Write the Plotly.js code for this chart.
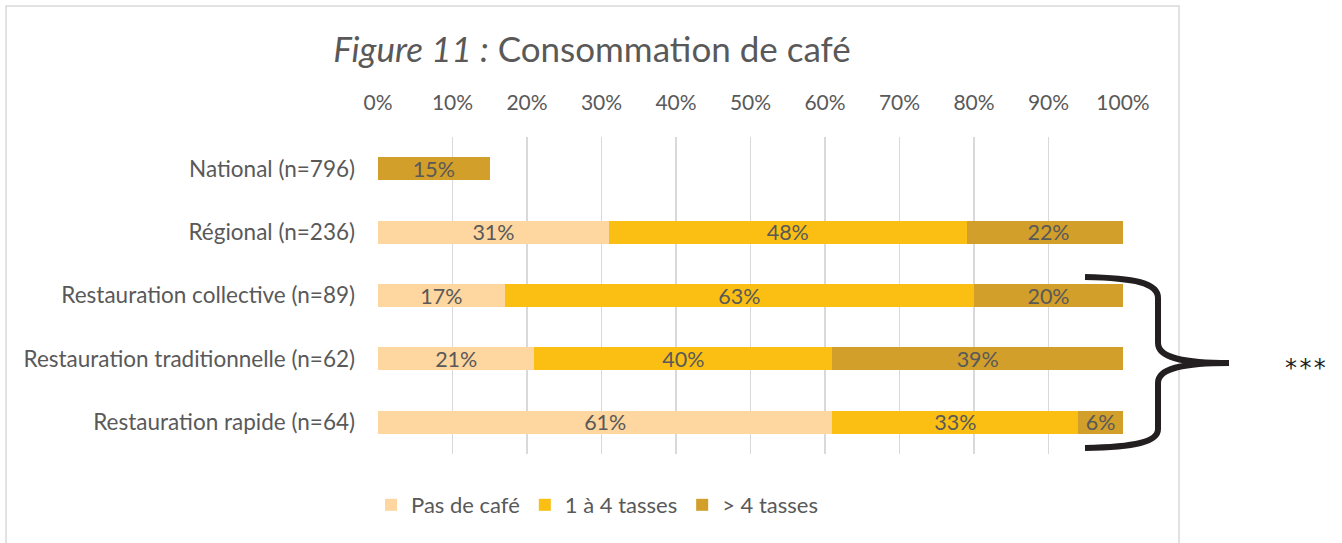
<!DOCTYPE html>
<html>
<head>
<meta charset="utf-8">
<script src="https://cdn.plot.ly/plotly-3.0.1.min.js"></script>
<style>html,body{margin:0;padding:0;background:#fff;}#chart{width:1342px;height:543px;}</style>
</head>
<body>
<div id="chart"></div>
<script>
const categories = ["National (n=796)", "Régional (n=236)", "Restauration collective (n=89)", "Restauration traditionnelle (n=62)", "Restauration rapide (n=64)"];
const seriesNames = ["Pas de café", "1 à 4 tasses", "> 4 tasses"];
const pasDeCafe = [null, 31, 17, 21, 61];
const unAQuatre = [null, 48, 63, 40, 33];
const plusDeQuatre = [15, 22, 20, 39, 6];
const xTicks = [0, 10, 20, 30, 40, 50, 60, 70, 80, 90, 100];
const colors = ["#FED69F", "#FBBF14", "#D29F2A"];

const W = 1342, H = 543;
const M = {l: 378, r: 219, t: 137, b: 89};
const PW = W - M.l - M.r, PH = H - M.t - M.b;
const px = x => ((x - M.l) / PW).toFixed(4);
const py = y => ((H - M.b - y) / PH).toFixed(4);

const FONT = "Lato, 'Open Sans', sans-serif";
const GREY = "#595959";

const vals = [pasDeCafe, unAQuatre, plusDeQuatre];
const traces = vals.map((v, i) => ({
  type: "bar",
  orientation: "h",
  name: seriesNames[i],
  y: categories,
  x: v,
  marker: {color: colors[i], line: {width: 0}},
  text: v.map(d => d == null ? "" : d + "%"),
  textposition: "inside",
  insidetextanchor: "middle",
  constraintext: "none",
  textfont: {family: FONT, size: 21.5, color: GREY},
  hoverinfo: "skip"
}));

// brace path (pixel coordinates converted to paper)
const P = (x, y) => px(x) + "," + py(y);
const brace = "M" + P(1085, 277) +
  " C" + P(1135, 278) + " " + P(1158, 283) + " " + P(1158, 298) +
  " L" + P(1158, 343) +
  " C" + P(1158, 357) + " " + P(1180, 363) + " " + P(1229, 363) +
  " C" + P(1180, 363) + " " + P(1158, 369) + " " + P(1158, 383) +
  " L" + P(1158, 429) +
  " C" + P(1158, 442) + " " + P(1135, 447) + " " + P(1085, 448);

const layout = {
  width: W, height: H,
  margin: M,
  paper_bgcolor: "#fff",
  plot_bgcolor: "#fff",
  barmode: "stack",
  bargap: 0.635,
  font: {family: FONT, color: GREY},
  title: {
    text: "<i>Figure 11 :</i> Consommation de café",
    font: {family: FONT, size: 35, color: GREY},
    x: px(592), xref: "paper", xanchor: "center",
    y: 1 - 50 / H, yanchor: "middle"
  },
  xaxis: {
    side: "top",
    range: [0, 100],
    tickvals: xTicks,
    ticktext: xTicks.map(t => t + "%"),
    showgrid: true,
    gridcolor: "#D9D9D9",
    gridwidth: 1.5,
    zeroline: false,
    showline: false,
    ticks: "",
    ticklabelstandoff: 22,
    tickfont: {family: FONT, size: 21, color: GREY},
    fixedrange: true
  },
  yaxis: {
    autorange: "reversed",
    showgrid: false,
    zeroline: false,
    showline: false,
    ticks: "",
    ticklabelstandoff: 22,
    tickfont: {family: FONT, size: 22.5, color: GREY},
    fixedrange: true
  },
  showlegend: true,
  legend: {
    orientation: "h",
    xref: "paper", yref: "paper",
    x: px(597), xanchor: "center",
    y: py(505), yanchor: "middle",
    font: {family: FONT, size: 22, color: GREY},
    traceorder: "normal",
    itemclick: false
  },
  shapes: [
    {type: "rect", xref: "paper", yref: "paper",
     x0: px(6), x1: px(1179), y0: py(560), y1: py(6),
     line: {color: "#D9D9D9", width: 1.5}, fillcolor: "rgba(0,0,0,0)", layer: "below"},
    {type: "path", xref: "paper", yref: "paper", path: brace,
     line: {color: "#231F20", width: 6}, fillcolor: "rgba(0,0,0,0)"}
  ],
  annotations: [
    {xref: "paper", yref: "paper", x: px(1306), y: py(368), xanchor: "center", yanchor: "middle",
     text: "*&#8202;*&#8202;*", showarrow: false, font: {family: "'DejaVu Sans', sans-serif", size: 24, color: "#231F20"}}
  ]
};

Plotly.newPlot("chart", traces, layout, {displayModeBar: false, staticPlot: true});
</script>
</body>
</html>
